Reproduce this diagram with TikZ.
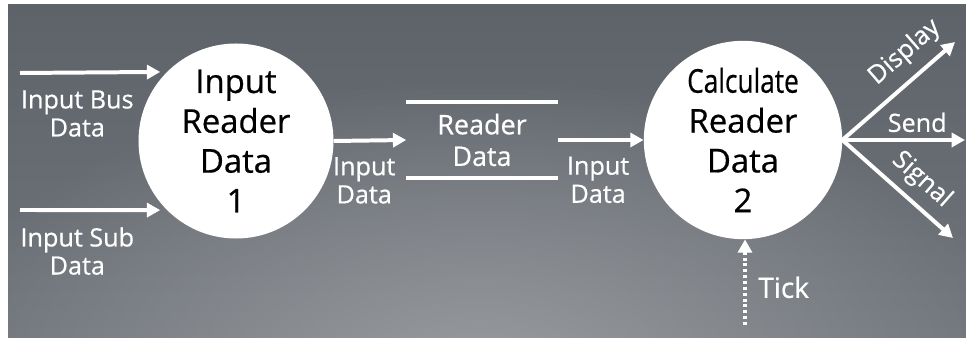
\documentclass[tikz,border=0pt]{standalone}
\usepackage{fontspec}
\setmainfont{Open Sans}[FakeBold=0.6]
\usetikzlibrary{arrows.meta, fadings}

\definecolor{bgTop}{RGB}{94,99,106}
\definecolor{bgBot}{RGB}{112,117,123}
\definecolor{bgGlow}{RGB}{152,155,159}
\tikzfading[name=glowfade, inner color=transparent!0, outer color=transparent!100]

\begin{document}
\begin{tikzpicture}[x=0.03cm, y=0.03cm]
		\tikzstyle{process}=[circle, fill=white, minimum size=5.85cm, inner sep=0pt, align=center, font=\fontsize{28}{34}\selectfont]
		\tikzstyle{flow}=[draw=white, line width=3.4pt, -{Triangle[length=4mm, width=4.2mm]}]
		\tikzstyle{tag}=[text=white, align=center, inner sep=2pt, font=\fontsize{21.5}{24}\selectfont]

		% background
		\useasboundingbox (0,0) rectangle (966,338);
		\fill[white] (0,0) rectangle (966,338);
		\begin{scope}
			\clip (8,0) rectangle (966,333);
			\shade[top color=bgTop, bottom color=bgBot] (8,0) rectangle (966,333);
			\fill[bgGlow, path fading=glowfade] (480,-40) ellipse (560 and 300);
		\end{scope}

		\node[process] (inputReader) at (236,197) {
			Input\\Reader\\Data\\1
		};

		\node[process, minimum size=5.95cm] (calcReader) at (743,198) {
			\scalebox{0.8}[1]{Calculate}\\Reader\\Data\\2
		};

		\node[tag, minimum width=4.53cm, minimum height=2.28cm, font=\fontsize{23}{27}\selectfont]
		(readerStore) at (482,198) {
			Reader\\Data
		};
		\draw[white, line width=3.4pt] (readerStore.north west) -- (readerStore.north east);
		\draw[white, line width=3.4pt] (readerStore.south west) -- (readerStore.south east);

		\coordinate (busIn) at (20,265);
		\coordinate (subIn) at (20,128);
		\coordinate (displayOut) at (955,296);
		\coordinate (sendOut) at (965,198);
		\coordinate (signalOut) at (953,100);
		\coordinate (tickIn) at (745,13);

		\draw[flow, shorten >=2mm] (busIn) -- node[tag, pos=0.39, yshift=-35pt] {Input Bus\\Data} (inputReader.135);
		\draw[flow, shorten >=2mm] (subIn) -- node[tag, pos=0.39, yshift=-35pt] {Input Sub\\Data} (inputReader.225);
		\draw[flow] (inputReader.east) -- node[tag, pos=0.42, yshift=-34pt] {Input\\Data} (readerStore.west);
		\draw[flow] (readerStore.east) -- node[tag, pos=0.47, yshift=-34pt] {Input\\Data} (calcReader.west);
		\draw[flow] (calcReader.east) -- node[tag, pos=0.7, sloped, above=7pt] {Display} (displayOut);
		\draw[flow] (calcReader.east) -- node[tag, pos=0.61, yshift=15pt] {Send} (sendOut);
		\draw[flow] (calcReader.east) -- node[tag, pos=0.58, sloped, above=5pt] {Signal} (signalOut);
		\draw[flow, dash pattern=on 2.5pt off 2.5pt] (tickIn) -- node[tag, pos=0.44, xshift=33pt, font=\fontsize{24}{28}\selectfont] {Tick} (tickIn |- calcReader.south);

	\end{tikzpicture}
\end{document}
